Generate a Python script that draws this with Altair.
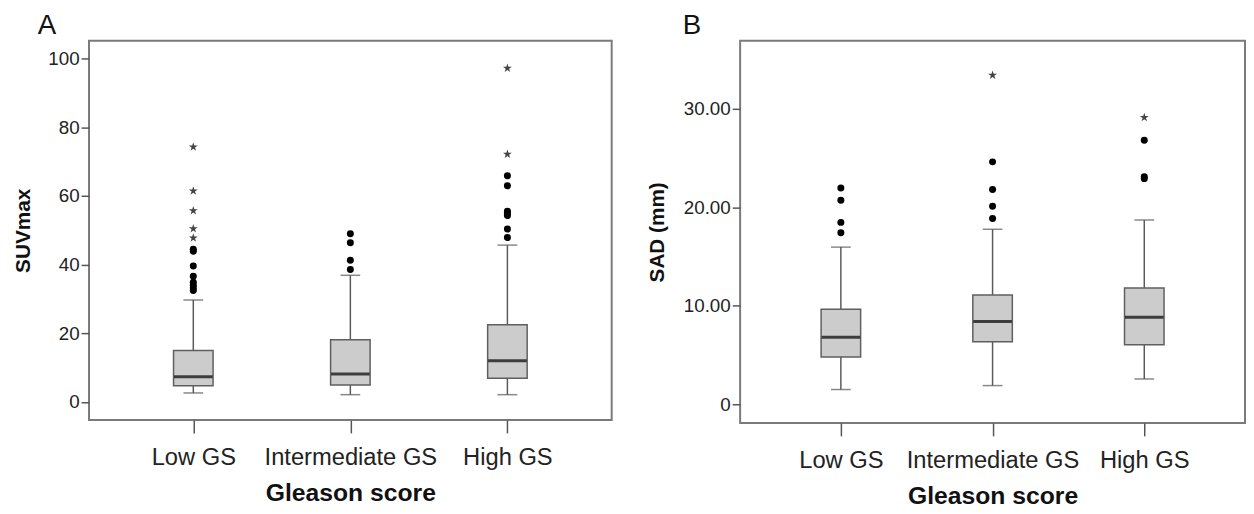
import altair as alt
import pandas as pd

cats = ["Low GS", "Intermediate GS", "High GS"]

# Panel A: SUVmax
suv_q1 = [4.7, 4.9, 6.9]
suv_med = [7.3, 8.1, 12.0]
suv_q3 = [15.0, 18.1, 22.5]
suv_lo = [2.6, 2.1, 2.1]
suv_hi = [29.7, 36.9, 45.7]
suv_out_low = [32.5, 33.2, 34.0, 34.9, 36.6, 39.6, 43.9, 44.5]
suv_out_int = [38.6, 41.3, 46.4, 49.0]
suv_out_high = [47.9, 50.4, 54.3, 55.0, 55.6, 63.0, 65.9]
suv_ext_low = [47.8, 50.5, 55.7, 61.5, 74.3]
suv_ext_int = []
suv_ext_high = [72.2, 97.3]

# Panel B: SAD (mm)
sad_q1 = [4.8, 6.34, 6.04]
sad_med = [6.8, 8.4, 8.84]
sad_q3 = [9.64, 11.1, 11.8]
sad_lo = [1.5, 1.9, 2.57]
sad_hi = [15.95, 17.76, 18.7]
sad_out_low = [17.4, 18.46, 20.7, 21.96]
sad_out_int = [18.86, 20.1, 21.8, 24.6]
sad_out_high = [22.9, 23.1, 26.8]
sad_ext_low = []
sad_ext_int = [33.4]
sad_ext_high = [29.1]

FONT = "Liberation Sans"
STAR = ("M0,-1L0.2245,-0.309L0.951,-0.309L0.363,0.118L0.588,0.809L0,0.382"
        "L-0.588,0.809L-0.363,0.118L-0.951,-0.309L-0.2245,-0.309Z")


def panel(label, ytitle, q1, med, q3, lo, hi, outs, exts, domain, yvals,
          width, height, label_expr, label_dx, title_pad):
    box = pd.DataFrame({"cat": cats, "q1": q1, "med": med, "q3": q3,
                        "lo": lo, "hi": hi})
    orows = []
    for c, vals in zip(cats, outs):
        for v in vals:
            orows.append({"cat": c, "v": v})
    erows = []
    for c, vals in zip(cats, exts):
        for v in vals:
            erows.append({"cat": c, "v": v})
    odf = pd.DataFrame(orows, columns=["cat", "v"])
    edf = pd.DataFrame(erows, columns=["cat", "v"])

    x = alt.X("cat:N", sort=cats,
              scale=alt.Scale(type="point", padding=0.664),
              axis=alt.Axis(title="Gleason score", labelAngle=0,
                            labelFontSize=24, labelPadding=13,
                            titleFontSize=25, titleFontWeight="bold",
                            titlePadding=11, tickSize=13, domain=False,
                            labelColor="#222", titleColor="#111"))
    yscale = alt.Scale(domain=domain, nice=False, zero=False)
    yaxis = alt.Axis(title=ytitle, values=yvals, labelExpr=label_expr,
                     labelFontSize=19, labelPadding=2, tickSize=8,
                     titleFontSize=21, titleFontWeight="bold",
                     titlePadding=title_pad, grid=False, domain=False,
                     labelColor="#222", titleColor="#111")

    base = alt.Chart(box)
    whisk = base.mark_rule(color="#5a5a5a", strokeWidth=1.5).encode(
        x=x, y=alt.Y("lo:Q", scale=yscale, axis=yaxis), y2="hi:Q")
    bars = base.mark_bar(size=40, fill="#cccccc", stroke="#5f5f5f",
                         strokeWidth=1.5).encode(
        x=x, y=alt.Y("q1:Q", scale=yscale), y2="q3:Q")
    medt = base.mark_tick(size=39, thickness=3, color="#000").encode(
        x=x, y=alt.Y("med:Q", scale=yscale))
    capl = base.mark_tick(size=20, thickness=1.5, color="#555").encode(
        x=x, y=alt.Y("lo:Q", scale=yscale))
    caph = base.mark_tick(size=20, thickness=1.5, color="#555").encode(
        x=x, y=alt.Y("hi:Q", scale=yscale))
    pts = alt.Chart(odf).mark_point(filled=True, color="#000", size=50,
                                    opacity=1).encode(
        x=x, y=alt.Y("v:Q", scale=yscale))
    stars = alt.Chart(edf).mark_point(filled=True, color="#444", size=90,
                                      shape=STAR, opacity=1).encode(
        x=x, y=alt.Y("v:Q", scale=yscale))
    tag = alt.Chart(pd.DataFrame({"t": [label]})).mark_text(
        align="left", baseline="alphabetic", fontSize=28, font=FONT,
        color="#111").encode(text="t:N", x=alt.value(label_dx),
                             y=alt.value(-7))

    return alt.layer(whisk, bars, medt, capl, caph, pts, stars,
                     tag).properties(width=width, height=height)


a = panel("A", "SUVmax", suv_q1, suv_med, suv_q3, suv_lo, suv_hi,
          [suv_out_low, suv_out_int, suv_out_high],
          [suv_ext_low, suv_ext_int, suv_ext_high],
          [-5.3, 105.3], [0, 20, 40, 60, 80, 100], 529, 384,
          "format(datum.value, 'd')", -52, 15)
b = panel("B", "SAD (mm)", sad_q1, sad_med, sad_q3, sad_lo, sad_hi,
          [sad_out_low, sad_out_int, sad_out_high],
          [sad_ext_low, sad_ext_int, sad_ext_high],
          [-1.9, 36.9], [0, 10, 20, 30], 511, 387,
          "datum.value == 0 ? '0' : format(datum.value, '.2f')", -58, 16)

chart = alt.hconcat(a, b, spacing=33).properties(
    padding={"left": 3, "top": 0, "right": 0, "bottom": 0}
).configure(font=FONT).configure_view(
    stroke="#7a7a7a", strokeWidth=2
).configure_axis(
    labelFont=FONT, titleFont=FONT, tickColor="#555", tickWidth=1.5
)

chart.save("out.html", embed_options={"renderer": "svg", "actions": False})
